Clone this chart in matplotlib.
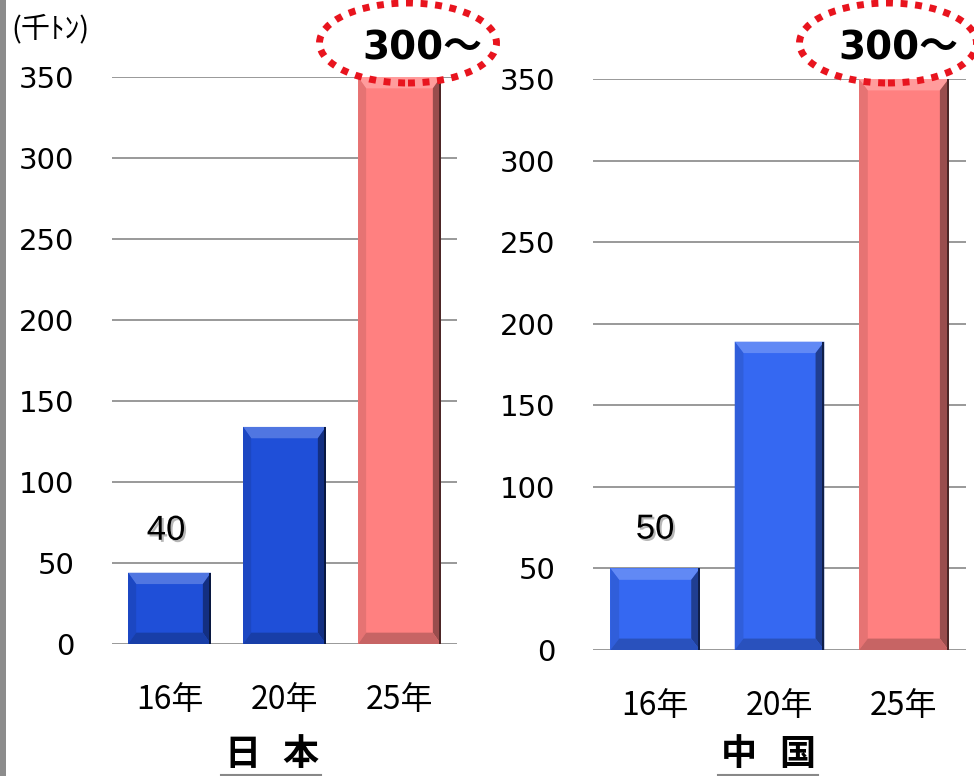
import matplotlib
matplotlib.use("Agg")
import numpy as np
from matplotlib import pyplot as plt
from matplotlib import patheffects as pe
from matplotlib.patches import Ellipse, Rectangle, Polygon
from matplotlib.lines import Line2D

plt.rcParams['font.family'] = ['Noto Sans CJK JP', 'DejaVu Sans']

# data (thousand tons)
years = ["16年", "20年", "25年"]
japan = [44, 134, 350]
china = [50, 189, 350]
japan_label = "40"
china_label = "50"
top_label = "300～"
yticks = [0, 50, 100, 150, 200, 250, 300, 350]

blue_jp = "#1f4fd8"
blue_cn = "#3568f2"
red = "#ff8080"

fig = plt.figure(figsize=(9.74, 7.76), dpi=100)

# gray strip on the far left
fig.add_artist(Rectangle((0, 0), 6 / 974, 1, transform=fig.transFigure,
                         color="#8c8c8c", lw=0))


def shade(c, f):
    rgb = np.array(matplotlib.colors.to_rgb(c))
    if f > 0:
        rgb = rgb + (1 - rgb) * f
    else:
        rgb = rgb * (1 + f)
    return tuple(rgb)


def bevel_bars(ax, vals, cols):
    x = np.arange(len(vals))
    w = 0.72
    bars = ax.bar(x, vals, width=w, color=cols, linewidth=0, zorder=3)
    # bevel faces for the 3D look
    dx, dy = 0.07, 7
    for b, c in zip(bars, cols):
        x0, x1 = b.get_x(), b.get_x() + b.get_width()
        h = b.get_height()
        faces = [
            ([(x0, h), (x1, h), (x1 - dx, h - dy), (x0 + dx, h - dy)], shade(c, 0.22)),
            ([(x1, h), (x1, 0), (x1 - dx, dy), (x1 - dx, h - dy)], shade(c, -0.4)),
            ([(x0, h), (x0, 0), (x0 + dx, dy), (x0 + dx, h - dy)], shade(c, -0.1)),
            ([(x0, 0), (x1, 0), (x1 - dx, dy), (x0 + dx, dy)], shade(c, -0.22)),
        ]
        for pts, fc in faces:
            ax.add_patch(Polygon(pts, closed=True, fc=fc, lw=0, zorder=4))
        ax.add_patch(Rectangle((x1 - 0.015, 0), 0.015, h, fc=shade(c, -0.7), lw=0, zorder=5))
    return x


def setup(ax, x):
    ax.set_ylim(0, 350)
    ax.set_xlim(-0.5, 2.5)
    ax.set_yticks(yticks)
    ax.set_xticks(x)
    ax.set_xticklabels(years, fontsize=23)
    for s in ax.spines.values():
        s.set_visible(False)
    ax.grid(axis="y", color="#999999", lw=1.4, zorder=0)
    ax.tick_params(length=0)
    ax.tick_params(axis="y", pad=27, labelsize=21)
    ax.tick_params(axis="x", pad=29)
    for t in ax.get_yticklabels():
        t.set_fontfamily("DejaVu Sans")


shadow = [pe.SimplePatchShadow(offset=(1.5, -1.5), shadow_rgbFace="#888888", alpha=0.6), pe.Normal()]

# Japan
ax1 = fig.add_axes([112 / 974, 1 - 644 / 776, 345 / 974, 567 / 776])
x1 = bevel_bars(ax1, japan, [blue_jp, blue_jp, red])
setup(ax1, x1)
ax1.text(x1[0] - 0.03, japan[0] + 16, japan_label, ha="center", va="bottom", fontsize=25,
         family="Liberation Sans", color="black", zorder=6, path_effects=shadow)

# China
ax2 = fig.add_axes([593 / 974, 1 - 650 / 776, 373 / 974, 571 / 776])
x2 = bevel_bars(ax2, china, [blue_cn, blue_cn, red])
setup(ax2, x2)
ax2.text(x2[0], china[0] + 14, china_label, ha="center", va="bottom", fontsize=25,
         family="Liberation Sans", color="black", zorder=6, path_effects=shadow)

# unit
fig.text(11 / 974, 1 - 29 / 776, "(千ﾄﾝ)", fontsize=21, va="center", ha="left")

# "300～" with dotted red ellipse
for cx, tx in [(408, 422), (888, 898)]:
    e = Ellipse((cx / 974, 1 - 43 / 776), 177 / 974, 80 / 776, transform=fig.transFigure,
                fill=False, edgecolor="#e8141e", lw=5, ls=(0, (1, 1.1)), zorder=10)
    fig.add_artist(e)
    fig.text(tx / 974, 1 - 48 / 776, top_label, fontsize=28, fontweight="bold",
             family=["DejaVu Sans", "Noto Sans CJK JP"],
             ha="center", va="center", zorder=11)

# country names, underlined
for cx, name in [(271, "日本"), (768, "中国")]:
    for k, ch in enumerate(name):
        fig.text((cx + (k * 2 - 1) * 29) / 974, 1 - 755 / 776, ch, fontsize=26,
                 fontweight="bold", ha="center", va="center")
    fig.add_artist(Line2D([(cx - 50) / 974, (cx + 50) / 974], [1 - 774.5 / 776] * 2,
                          transform=fig.transFigure, color="#888888", lw=1.5))

fig.savefig("out.png", dpi=100)
